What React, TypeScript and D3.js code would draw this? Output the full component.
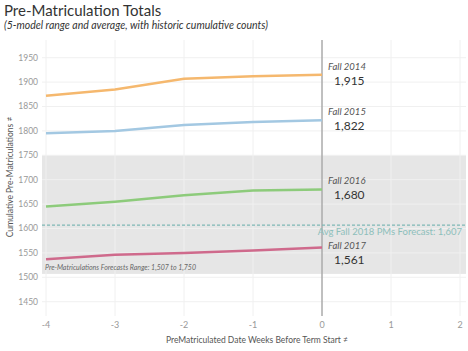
import * as d3 from 'd3';

const weeks = [-4, -3, -2, -1, 0];
const fall2014 = [1872, 1885, 1907, 1912, 1915];
const fall2015 = [1795, 1800, 1812, 1818, 1822];
const fall2016 = [1645, 1655, 1668, 1678, 1680];
const fall2017 = [1537, 1546, 1550, 1555, 1561];
const seriesNames = ['Fall 2014', 'Fall 2015', 'Fall 2016', 'Fall 2017'];
const seriesColors = ['#f5b86e', '#a3c8e2', '#8dcb7b', '#cf6a8c'];
const forecastLow = 1507;
const forecastHigh = 1750;
const forecastAvg = 1607;
const yTicks = [1450, 1500, 1550, 1600, 1650, 1700, 1750, 1800, 1850, 1900, 1950];
const xTicks = [-4, -3, -2, -1, 0, 1, 2];

const W = 468;
const H = 351;
const plot = { left: 42, right: 466, top: 40, bottom: 316 };
const font = 'Lato, "Open Sans", sans-serif';
const textColor = '#999999';
// label nudges (the lowest one is pushed down under the avg label, like tableau does)
const labelShift = [0, 0, 0, 6];

export default function App() {
  const x = d3.scaleLinear().domain([-4, 2]).range([46, 460]);
  const y = d3.scaleLinear().domain([1450, 1950]).range([301.7, 57.7]);
  const fmt = d3.format(',');
  const all = [fall2014, fall2015, fall2016, fall2017];
  const line = d3
    .line<number>()
    .x((_, i) => x(weeks[i]))
    .y((d) => y(d));

  return (
    <svg
      width={W}
      height={H}
      style={{ position: 'absolute', left: 0, top: 0, background: '#fff' }}
      fontFamily={font}
    >
      {/* titles */}
      <text x={4} y={16} fontSize={15} fill="#333">
        Pre-Matriculation Totals
      </text>
      <text x={4} y={28.5} fontSize={10.5} fontStyle="italic" fill="#333">
        (5-model range and average, with historic cumulative counts)
      </text>

      {/* forecast band */}
      <rect
        x={plot.left}
        width={plot.right - plot.left}
        y={y(forecastHigh)}
        height={y(forecastLow) - y(forecastHigh)}
        fill="#e6e6e6"
      />

      {/* grid */}
      {yTicks.map((t) => (
        <line
          key={'gy' + t}
          x1={plot.left}
          x2={plot.right}
          y1={y(t)}
          y2={y(t)}
          stroke="#f0f0f0"
          strokeWidth={1}
        />
      ))}
      {xTicks.map((t) => (
        <line
          key={'gx' + t}
          x1={x(t)}
          x2={x(t)}
          y1={plot.top}
          y2={plot.bottom}
          stroke="#f0f0f0"
          strokeWidth={1}
        />
      ))}

      <text x={45} y={y(forecastLow) - 4} fontSize={7} fontStyle="italic" fill="#666">
        Pre-Matriculations Forecasts Range: {fmt(forecastLow)} to {fmt(forecastHigh)}
      </text>

      {/* y axis */}
      {yTicks.map((t) => (
        <text
          key={'ty' + t}
          x={38}
          y={y(t)}
          dy="0.35em"
          textAnchor="end"
          fontSize={8.5}
          fill={textColor}
        >
          {t}
        </text>
      ))}
      <text
        transform={`translate(13,177) rotate(-90)`}
        textAnchor="middle"
        fontSize={8.5}
        fill="#555"
      >
        Cumulative Pre-Matriculations ≠
      </text>

      {/* x axis */}
      {xTicks.map((t) => (
        <text
          key={'tx' + t}
          x={x(t)}
          y={328}
          textAnchor="middle"
          fontSize={9}
          fill={textColor}
        >
          {t}
        </text>
      ))}
      <text x={257} y={343} textAnchor="middle" fontSize={8.5} fill="#555">
        PreMatriculated Date Weeks Before Term Start ≠
      </text>

      {/* zero line */}
      <line x1={x(0)} x2={x(0)} y1={plot.top} y2={plot.bottom} stroke="#888" strokeWidth={1} />

      {/* average forecast */}
      <line
        x1={plot.left}
        x2={plot.right}
        y1={y(forecastAvg)}
        y2={y(forecastAvg)}
        stroke="#7fb8b5"
        strokeWidth={1.2}
        strokeDasharray="3,2"
      />
      <text
        x={462}
        y={y(forecastAvg) + 10}
        textAnchor="end"
        fontSize={9.5}
        fill="#8dbfbb"
      >
        Avg Fall 2018 PMs Forecast: {fmt(forecastAvg)}
      </text>

      {/* series */}
      {all.map((s, i) => (
        <g key={seriesNames[i]}>
          <path d={line(s) ?? ''} fill="none" stroke={seriesColors[i]} strokeWidth={2.5} />
          <text
            x={x(0) + 6}
            y={y(s[s.length - 1]) - 5 + labelShift[i]}
            fontSize={9.5}
            fontStyle="italic"
            fill="#555"
          >
            {seriesNames[i]}
          </text>
          <text
            x={x(0) + 12}
            y={y(s[s.length - 1]) + 10 + labelShift[i]}
            fontSize={12}
            fill="#333"
          >
            {fmt(s[s.length - 1])}
          </text>
        </g>
      ))}
    </svg>
  );
}
